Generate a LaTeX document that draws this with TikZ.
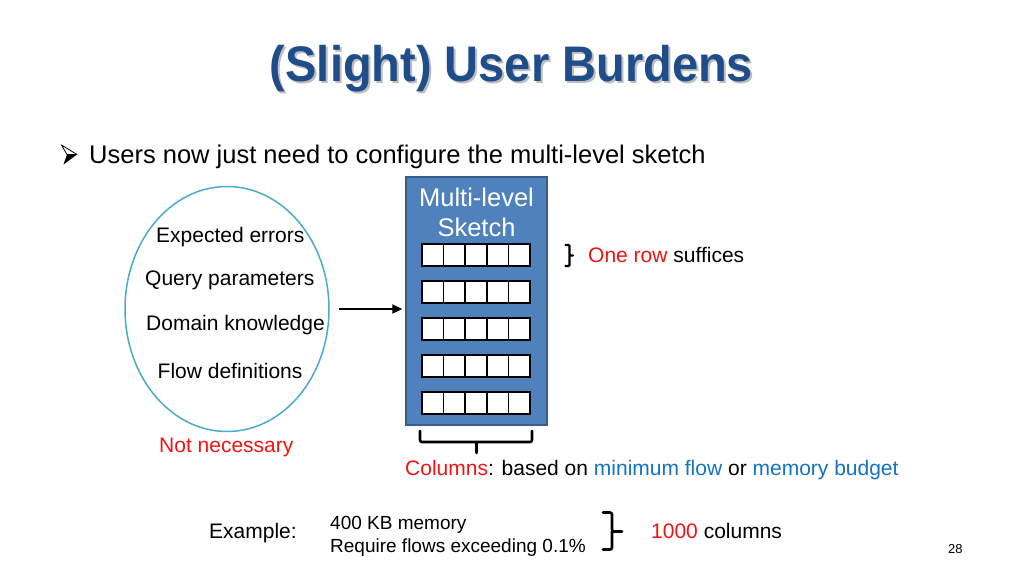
\documentclass[tikz,border=0pt]{standalone}
\usepackage{fontspec}
\setmainfont{Liberation Sans}
\usetikzlibrary{shapes.geometric,arrows.meta}
\definecolor{titleblue}{RGB}{31,77,138}
\definecolor{shadowgray}{RGB}{190,190,190}
\definecolor{ellcol}{RGB}{75,172,198}
\definecolor{boxfill}{RGB}{79,129,189}
\definecolor{boxline}{RGB}{56,93,138}
\definecolor{hlred}{RGB}{240,20,20}
\definecolor{hlblue}{RGB}{20,115,195}
\tikzset{
  body/.style={font=\fontsize{21}{25}\selectfont, inner sep=0pt, anchor=base west},
  big/.style={font=\fontsize{25.5}{30}\selectfont, inner sep=0pt},
  small/.style={font=\fontsize{19}{23}\selectfont, inner sep=0pt, anchor=base west},
  cell/.style={draw=black, line width=1.6pt, fill=white},
  bracestyle/.style={draw=black, line width=2.6pt, rounded corners=2pt, line cap=round, line join=round},
}
\begin{document}
\begin{tikzpicture}[x=1pt,y=-1pt]
\useasboundingbox (0,0) rectangle (1024,576);
\fill[white] (0,0) rectangle (1024,576);

% title
\node[font=\fontsize{50}{56}\selectfont\bfseries, text=shadowgray, inner sep=0pt, anchor=base, xscale=0.94, transform shape] (titleshadow) at (513.5,83.5) {(Slight) User Burdens};
\node[font=\fontsize{50}{56}\selectfont\bfseries, text=titleblue, inner sep=0pt, anchor=base, xscale=0.94, transform shape] (title) at (511.5,81.5) {(Slight) User Burdens};

% bullet glyph
\draw[black, line width=0.8pt, line join=round] (61.5,145) -- (77,154.5) -- (67,154.5) -- cycle;
\fill[black] (67,154.5) -- (77,154.5) -- (63.5,164.5) -- cycle;
\node[big, anchor=base west] (lead) at (89,163) {Users now just need to configure the multi-level sketch};

% ellipse
\node[ellipse, draw=ellcol, line width=1.5pt, minimum width=204pt, minimum height=245pt, inner sep=0pt] (ell) at (227,309) {};
\node[body] (e1) at (156,242) {Expected errors};
\node[body] (e2) at (145,285) {Query parameters};
\node[body] (e3) at (146,330) {Domain knowledge};
\node[body] (e4) at (157.5,378) {Flow definitions};
\node[body, text=hlred] (notnec) at (159,452) {Not necessary};

% sketch box
\node[draw=boxline, fill=boxfill, line width=1.5pt, minimum width=141pt, minimum height=248pt, inner sep=0pt] (box) at (476.5,301) {};
\node[big, anchor=base, text=white] (bt1) at (476.5,206.5) {Multi-level};
\node[big, anchor=base, text=white] (bt2) at (476.5,236.5) {Sketch};
\foreach \yy in {244,281,318,355,392}{
  \foreach \i in {0,...,4}{
    \draw[cell] ({422+21.6*\i},\yy) rectangle ({422+21.6*(\i+1)},\yy+22);
  }
}

% arrow
\draw[-{Triangle[length=10pt,width=9pt]}, line width=2.2pt, shorten <=9pt, shorten >=3pt] (ell.east) -- (ell.east -| box.west);

% one row brace
\draw[bracestyle, line width=2.4pt, rounded corners=1pt] (565.5,245) -- (569.5,245) -- (569.5,255.5) -- (573,255.5) (569.5,255.5) -- (569.5,266) -- (565.5,266);
\node[body] (onerow) at (588,262.5) {\textcolor{hlred}{One row} suffices};

% columns brace
\draw[bracestyle] (420,431) -- (420,442) -- (532,442) -- (532,431) (476.5,442) -- (476.5,453);
\node[body] (columns) at (405,475) {\textcolor{hlred}{Columns}: based on \textcolor{hlblue}{minimum flow} or \textcolor{hlblue}{memory budget}};

% example
\node[body] (example) at (209,538) {Example:};
\node[small] (ex1) at (330,529) {400 KB memory};
\node[small] (ex2) at (330,552) {Require flows exceeding 0.1\%};
\draw[bracestyle] (603,512.5) -- (612,512.5) -- (612,531.5) -- (622,531.5) (612,531.5) -- (612,549.5) -- (603,549.5);
\node[body] (thousand) at (651,538) {\textcolor{hlred}{1000} columns};

\node[font=\fontsize{13}{15}\selectfont, inner sep=0pt, anchor=base west] (pagenum) at (948,553) {28};
\end{tikzpicture}
\end{document}
